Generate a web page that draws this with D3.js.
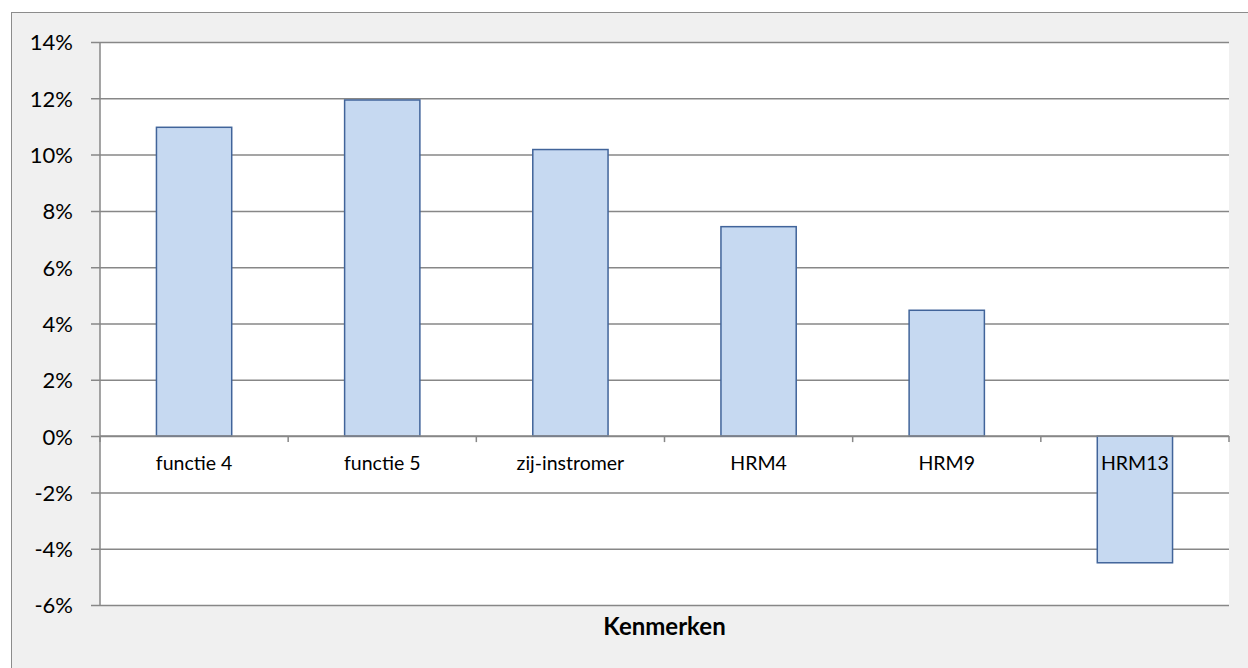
<!DOCTYPE html>
<html>
<head>
<meta charset="utf-8">
<script src="https://cdn.jsdelivr.net/npm/d3@7"></script>
<style>
  body { margin: 0; background: #fff; }
  svg { display: block; font-family: Lato, "Open Sans", sans-serif; }
</style>
</head>
<body>
<div class="chart"></div>
<script>
// data
var categories = ["functie 4", "functie 5", "zij-instromer", "HRM4", "HRM9", "HRM13"];
var values = [0.1097, 0.1194, 0.1018, 0.0744, 0.0447, -0.0450];
var yTicks = [-0.06, -0.04, -0.02, 0, 0.02, 0.04, 0.06, 0.08, 0.10, 0.12, 0.14];
var xTitle = "Kenmerken";

var width = 1248, height = 668;
var margin = { left: 100, right: 19, top: 42, bottom: 63 };

var svg = d3.select(".chart").append("svg")
    .attr("width", width)
    .attr("height", height);

// chart frame (runs off the right and bottom edge)
svg.append("rect")
    .attr("x", 11.5).attr("y", 12.5)
    .attr("width", width + 20).attr("height", height + 20)
    .attr("fill", "#f0f0f0")
    .attr("stroke", "#8c8c8c")
    .attr("stroke-width", 1);

var x = d3.scaleBand()
    .domain(categories)
    .range([margin.left, width - margin.right])
    .paddingInner(0.6)
    .paddingOuter(0.3);

var y = d3.scaleLinear()
    .domain([-0.06, 0.14])
    .range([height - margin.bottom, margin.top]);

// plot area
svg.append("rect")
    .attr("x", margin.left).attr("y", margin.top)
    .attr("width", width - margin.left - margin.right)
    .attr("height", height - margin.top - margin.bottom)
    .attr("fill", "#fff");

// y axis with gridlines
var pct = function(d) { return Math.round(d * 100) + "%"; };
var yAxis = d3.axisLeft(y)
    .tickValues(yTicks)
    .tickFormat(pct)
    .tickSize(-(width - margin.left - margin.right))
    .tickPadding(27);

var gy = svg.append("g")
    .attr("transform", "translate(" + margin.left + ",0)")
    .call(yAxis)
    .attr("font-family", null)
    .attr("font-size", null);
gy.select(".domain").remove();
gy.selectAll(".tick line")
    .attr("x1", -9)
    .attr("stroke", "#878787")
    .attr("stroke-width", 1.5);
gy.selectAll(".tick text")
    .attr("font-size", 22)
    .attr("dy", "0.36em")
    .attr("fill", "#000");

svg.append("line")
    .attr("x1", margin.left).attr("x2", margin.left)
    .attr("y1", margin.top).attr("y2", height - margin.bottom)
    .attr("stroke", "#878787")
    .attr("stroke-width", 1.5);

// bars
svg.append("g").selectAll("rect")
    .data(values)
    .join("rect")
    .attr("x", function(d, i) { return x(categories[i]); })
    .attr("y", function(d) { return y(Math.max(0, d)); })
    .attr("width", x.bandwidth())
    .attr("height", function(d) { return Math.abs(y(d) - y(0)); })
    .attr("fill", "#c6d9f1")
    .attr("stroke", "#41649a")
    .attr("stroke-width", 1.5);

// x axis on the zero line
var boundaries = d3.range(categories.length + 1).map(function(i) { return margin.left + i * (width - margin.left - margin.right) / categories.length; });
var gx = svg.append("g");
gx.append("line")
    .attr("x1", margin.left).attr("x2", width - margin.right)
    .attr("y1", y(0)).attr("y2", y(0))
    .attr("stroke", "#878787")
    .attr("stroke-width", 1.5);
gx.selectAll(".xtick")
    .data(boundaries)
    .join("line")
    .attr("class", "xtick")
    .attr("x1", function(d) { return d; }).attr("x2", function(d) { return d; })
    .attr("y1", y(0)).attr("y2", y(0) + 6)
    .attr("stroke", "#878787")
    .attr("stroke-width", 1.5);
gx.selectAll("text")
    .data(categories)
    .join("text")
    .attr("x", function(d) { return x(d) + x.bandwidth() / 2; })
    .attr("y", y(0) + 34)
    .attr("text-anchor", "middle")
    .attr("font-size", 19.5)
    .attr("fill", "#000")
    .text(function(d) { return d; });

svg.append("text")
    .attr("x", (margin.left + width - margin.right) / 2)
    .attr("y", 635)
    .attr("text-anchor", "middle")
    .attr("font-size", 24)
    .attr("font-weight", "bold")
    .attr("fill", "#000")
    .text(xTitle);
</script>
</body>
</html>
